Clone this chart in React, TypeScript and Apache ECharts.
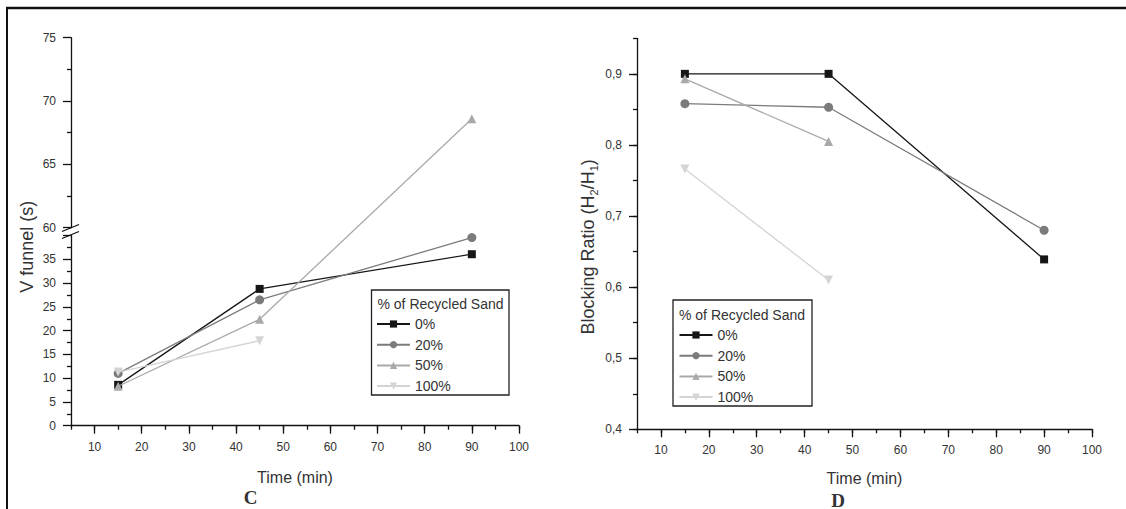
import React, { useEffect, useRef } from 'react';
import * as echarts from 'echarts';

// Sampling times (min)
const TIMES = [15, 45, 90];
const SERIES_NAMES = ['0%', '20%', '50%', '100%'];

// V-funnel flow time (s) per recycled-sand content
const VF_0 = [8.6, 28.8, 36.1];
const VF_20 = [11.0, 26.5, 39.6];
const VF_50 = [8.3, 22.4, 68.6];
const VF_100 = [11.3, 17.9, null];

// L-box blocking ratio H2/H1 per recycled-sand content
const BR_0 = [0.9, 0.9, 0.639];
const BR_20 = [0.858, 0.853, 0.68];
const BR_50 = [0.893, 0.805, null];
const BR_100 = [0.766, 0.61, null];

// Axis ticks
const X_MAJOR = [10, 20, 30, 40, 50, 60, 70, 80, 90, 100];
const BR_MAJOR = [0.4, 0.5, 0.6, 0.7, 0.8, 0.9];

const VF_SETS = [VF_0, VF_20, VF_50, VF_100];
const BR_SETS = [BR_0, BR_20, BR_50, BR_100];

const FONT = '"Liberation Sans", Arial, sans-serif';
const SERIF = '"Liberation Serif", "Times New Roman", serif';
const INK = '#111111';
const TEXT = '#333333';

const MARKS = [
  { color: '#161616', symbol: 'rect', size: 8, rotate: 0 },
  { color: '#7b7b7b', symbol: 'circle', size: 9, rotate: 0 },
  { color: '#a9a9a9', symbol: 'triangle', size: 9, rotate: 0 },
  { color: '#d4d4d4', symbol: 'triangle', size: 9, rotate: 180 },
];

// Broken V-funnel axis: 0-40 below the break, 60-75 above it, equal heights.
const LOWER_MAX = 40;
const UPPER_MIN = 60;
const UPPER_MAX = 75;
const LEFT_X = 71;
const LEFT_W = 448;
const PLOT_TOP = 37.7;
const SEG_PX = 190;
const GAP_PX = 8;
const UNIT_PX = SEG_PX / LOWER_MAX;
const brokenY = (v: number) =>
  v <= LOWER_MAX
    ? v
    : LOWER_MAX + GAP_PX / UNIT_PX + ((v - UPPER_MIN) * (SEG_PX / (UPPER_MAX - UPPER_MIN))) / UNIT_PX;
const BROKEN_TOP = brokenY(UPPER_MAX);

const RIGHT_X = 637;
const RIGHT_W = 455;
const RIGHT_TOP = 38.3;
const RIGHT_H = 391;

const lineStyle = { color: INK, width: 1.3 };
const tickLabel = { fontSize: 12, color: TEXT, fontFamily: FONT };

function buildOption() {
  const grids = [
    { left: LEFT_X, top: PLOT_TOP, width: LEFT_W, height: SEG_PX * 2 + GAP_PX },
    { left: LEFT_X, top: PLOT_TOP + SEG_PX + GAP_PX, width: LEFT_W, height: SEG_PX },
    { left: LEFT_X, top: PLOT_TOP, width: LEFT_W, height: SEG_PX },
    { left: RIGHT_X, top: RIGHT_TOP, width: RIGHT_W, height: RIGHT_H },
    { left: RIGHT_X, top: RIGHT_TOP, width: RIGHT_W, height: RIGHT_H },
  ];

  const timeAxis = (gridIndex: number, nameGap: number) => ({
    gridIndex,
    type: 'value',
    min: 5,
    max: 100,
    interval: 5,
    axisLine: { lineStyle },
    axisTick: { length: 4, lineStyle },
    axisLabel: { ...tickLabel, margin: 15, customValues: X_MAJOR },
    splitLine: { show: false },
    name: 'Time (min)',
    nameLocation: 'middle',
    nameGap,
    nameTextStyle: { fontSize: 16, color: TEXT, fontFamily: FONT },
  });

  const majorTimeTicks = (gridIndex: number) => ({
    gridIndex,
    type: 'value',
    min: 5,
    max: 100,
    interval: 5,
    axisLine: { show: false },
    axisTick: { length: 8, lineStyle, customValues: X_MAJOR },
    axisLabel: { show: false },
    splitLine: { show: false },
  });

  const xAxis = [
    timeAxis(0, 44),
    majorTimeTicks(1),
    { gridIndex: 2, type: 'value', min: 5, max: 100, show: false },
    timeAxis(3, 41),
    majorTimeTicks(4),
  ];

  const yAxis = [
    {
      gridIndex: 0,
      type: 'value',
      min: 0,
      max: BROKEN_TOP,
      axisLine: { show: false },
      axisTick: { show: false },
      axisLabel: { show: false },
      splitLine: { show: false },
      name: 'V funnel (s)',
      nameLocation: 'middle',
      nameGap: 35,
      nameTextStyle: { fontSize: 18, color: TEXT, fontFamily: FONT, padding: [0, 30, 0, 0] },
    },
    {
      gridIndex: 1,
      type: 'value',
      min: 0,
      max: LOWER_MAX,
      interval: 5,
      axisLine: { lineStyle },
      axisTick: { length: 8, lineStyle },
      minorTick: { show: true, splitNumber: 2, length: 4, lineStyle },
      axisLabel: { ...tickLabel, margin: 15, formatter: (v: number) => (v >= LOWER_MAX ? '' : String(v)) },
      splitLine: { show: false },
    },
    {
      gridIndex: 2,
      type: 'value',
      min: UPPER_MIN,
      max: UPPER_MAX,
      interval: 5,
      axisLine: { lineStyle },
      axisTick: { length: 8, lineStyle },
      minorTick: { show: true, splitNumber: 2, length: 4, lineStyle },
      axisLabel: { ...tickLabel, margin: 15 },
      splitLine: { show: false },
    },
    {
      gridIndex: 3,
      type: 'value',
      min: 0.4,
      max: 0.95,
      interval: 0.05,
      axisLine: { lineStyle },
      axisTick: { length: 4, lineStyle },
      axisLabel: {
        ...tickLabel,
        margin: 15,
        customValues: BR_MAJOR,
        formatter: (v: number) => v.toFixed(1).replace('.', ','),
      },
      splitLine: { show: false },
      name: 'Blocking Ratio (H{sub|2}/H{sub|1})',
      nameLocation: 'middle',
      nameGap: 38,
      nameTextStyle: {
        fontSize: 18,
        color: TEXT,
        fontFamily: FONT,
        lineHeight: 22,
        padding: [0, 26, 0, 0],
        rich: {
          sub: { fontSize: 11, color: TEXT, fontFamily: FONT, verticalAlign: 'bottom', lineHeight: 8 },
        },
      },
    },
    {
      gridIndex: 4,
      type: 'value',
      min: 0.4,
      max: 0.95,
      interval: 0.05,
      axisLine: { show: false },
      axisTick: { length: 8, lineStyle, customValues: BR_MAJOR },
      axisLabel: { show: false },
      splitLine: { show: false },
    },
  ];

  const makeSeries = (sets: (number | null)[][], axisIndex: number, mapY: (v: number) => number) =>
    sets.map((vals, i) => ({
      name: SERIES_NAMES[i],
      type: 'line',
      xAxisIndex: axisIndex,
      yAxisIndex: axisIndex,
      data: TIMES.map((t, k) => (vals[k] == null ? null : [t, mapY(vals[k] as number)])).filter(Boolean),
      symbol: MARKS[i].symbol,
      symbolSize: MARKS[i].size,
      symbolRotate: MARKS[i].rotate,
      lineStyle: { color: MARKS[i].color, width: 1.3 },
      itemStyle: { color: MARKS[i].color },
      emphasis: { disabled: true },
      z: 2 + i,
    }));

  const series = [...makeSeries(VF_SETS, 0, brokenY), ...makeSeries(BR_SETS, 3, (v) => v)];

  const legendBase = {
    data: SERIES_NAMES,
    orient: 'vertical',
    itemWidth: 33,
    itemHeight: 9,
    itemGap: 4.7,
    padding: 0,
    selectedMode: false,
    textStyle: { fontSize: 14, color: TEXT, fontFamily: FONT, lineHeight: 16 },
  };

  const legend = [
    { ...legendBase, left: 376, top: 316 },
    { ...legendBase, left: 678.5, top: 327 },
  ];

  const text = (x: number, y: number, str: string, font: string, align = 'left') => ({
    type: 'text',
    x,
    y,
    style: { text: str, font, fill: TEXT, textAlign: align, textVerticalAlign: 'middle', align, verticalAlign: 'middle' },
    z: 10,
  });

  const graphic = [
    // page frame
    { type: 'line', shape: { x1: 6, y1: 8, x2: 1126, y2: 8 }, style: { stroke: INK, lineWidth: 2.5 } },
    { type: 'line', shape: { x1: 7, y1: 8, x2: 7, y2: 509 }, style: { stroke: INK, lineWidth: 2 } },
    // axis break marks
    { type: 'line', shape: { x1: 62, y1: 231.5, x2: 79, y2: 224.5 }, style: { stroke: INK, lineWidth: 1.2 } },
    { type: 'line', shape: { x1: 62, y1: 238.5, x2: 79, y2: 231.5 }, style: { stroke: INK, lineWidth: 1.2 } },
    // legend frames and headings
    { type: 'rect', shape: { x: 371.5, y: 290, width: 137.5, height: 105 }, style: { fill: '#fff', stroke: '#222', lineWidth: 1.3 }, z: 1 },
    { type: 'rect', shape: { x: 673, y: 300, width: 139, height: 106 }, style: { fill: '#fff', stroke: '#222', lineWidth: 1.3 }, z: 1 },
    text(377.5, 303.5, '% of Recycled Sand', `14px ${FONT}`),
    text(679, 314.5, '% of Recycled Sand', `14px ${FONT}`),
    // panel letters
    text(250.5, 497.5, 'C', `bold 19px ${SERIF}`, 'center'),
    text(838, 500, 'D', `bold 19px ${SERIF}`, 'center'),
  ];

  return {
    animation: false,
    backgroundColor: '#ffffff',
    grid: grids,
    xAxis,
    yAxis,
    series,
    legend,
    graphic,
  };
}

export default function App() {
  const ref = useRef<HTMLDivElement>(null);
  useEffect(() => {
    document.body.style.margin = '0';
    const chart = echarts.init(ref.current as HTMLDivElement, undefined, { renderer: 'svg' });
    chart.setOption(buildOption() as any);
    return () => chart.dispose();
  }, []);
  return <div ref={ref} style={{ width: 1126, height: 509 }} />;
}
